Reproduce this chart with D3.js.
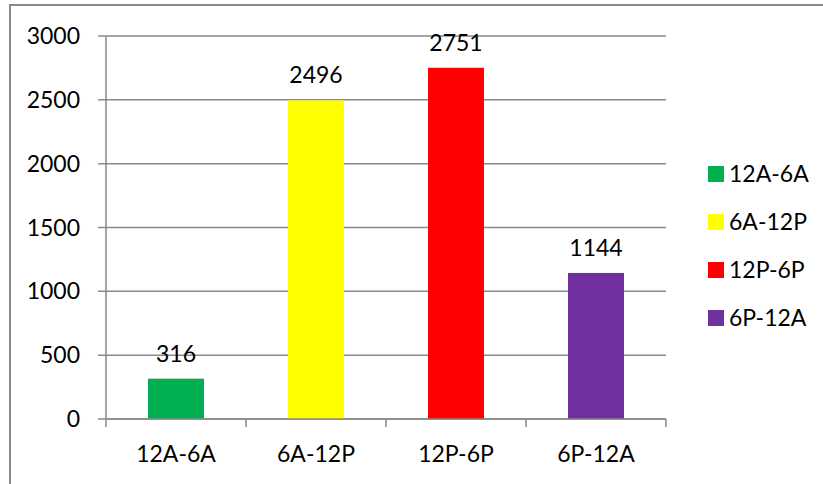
<!DOCTYPE html>
<html>
<head>
<meta charset="utf-8">
<script src="https://cdn.jsdelivr.net/npm/d3@7/dist/d3.min.js"></script>
<style>
  html, body { margin: 0; padding: 0; background: #fff; }
  svg { display: block; }
  text { font-family: Lato, "Open Sans", sans-serif; fill: #000; }
</style>
</head>
<body>
<svg id="chart" width="823" height="484"></svg>
<script>
const categories = ["12A-6A", "6A-12P", "12P-6P", "6P-12A"];
const values = [316, 2496, 2751, 1144];
const colors = ["#00B050", "#FFFF00", "#FF0000", "#7030A0"];
const yTicks = [0, 500, 1000, 1500, 2000, 2500, 3000];

const svg = d3.select("#chart");
const W = 823, H = 484;
const plot = { left: 106, right: 666, top: 36, bottom: 419 };
const fontSize = 23;
const gridColor = "#898989";

// outer frame (extends beyond right/bottom edges)
svg.append("rect")
  .attr("x", 10).attr("y", 5)
  .attr("width", W + 20).attr("height", H + 20)
  .attr("fill", "none").attr("stroke", gridColor).attr("stroke-width", 2);

const y = d3.scaleLinear().domain([0, 3000]).range([plot.bottom, plot.top]);
const x = d3.scaleBand().domain(categories).range([plot.left, plot.right])
  .paddingInner(0.6).paddingOuter(0.3);
const step = x.step();

// gridlines
svg.append("g").selectAll("line").data(yTicks).join("line")
  .attr("x1", plot.left - 8).attr("x2", plot.right)
  .attr("y1", d => y(d)).attr("y2", d => y(d))
  .attr("stroke", gridColor).attr("stroke-width", 1.5);

// y axis line
svg.append("line")
  .attr("x1", plot.left).attr("x2", plot.left)
  .attr("y1", plot.top).attr("y2", plot.bottom)
  .attr("stroke", gridColor).attr("stroke-width", 1.5);

// y labels
svg.append("g").selectAll("text").data(yTicks).join("text")
  .attr("x", 80).attr("y", d => y(d))
  .attr("dy", "0.35em")
  .attr("text-anchor", "end")
  .attr("font-size", fontSize)
  .text(d => d);

// bars
svg.append("g").selectAll("rect").data(values).join("rect")
  .attr("x", (d, i) => x(categories[i]))
  .attr("width", x.bandwidth())
  .attr("y", d => y(d))
  .attr("height", d => y(0) - y(d))
  .attr("fill", (d, i) => colors[i]);

// x axis line & ticks
svg.append("line")
  .attr("x1", plot.left).attr("x2", plot.right)
  .attr("y1", plot.bottom).attr("y2", plot.bottom)
  .attr("stroke", gridColor).attr("stroke-width", 1.5);
const xTickPos = categories.map(c => x(c) - (step - x.bandwidth()) / 2);
xTickPos.push(plot.right);
svg.append("g").selectAll("line").data(xTickPos).join("line")
  .attr("x1", d => d).attr("x2", d => d)
  .attr("y1", plot.bottom).attr("y2", plot.bottom + 8)
  .attr("stroke", gridColor).attr("stroke-width", 1.5);

// x labels
svg.append("g").selectAll("text").data(categories).join("text")
  .attr("x", d => x(d) + x.bandwidth() / 2)
  .attr("y", 462)
  .attr("text-anchor", "middle")
  .attr("font-size", fontSize)
  .text(d => d);

// data labels
svg.append("g").selectAll("text").data(values).join("text")
  .attr("x", (d, i) => x(categories[i]) + x.bandwidth() / 2)
  .attr("y", d => y(d) - 17)
  .attr("text-anchor", "middle")
  .attr("font-size", fontSize)
  .text(d => d);

// legend
const legend = svg.append("g");
categories.forEach((c, i) => {
  const cy = 174 + i * 48;
  legend.append("rect")
    .attr("x", 708).attr("y", cy - 8)
    .attr("width", 16).attr("height", 16)
    .attr("fill", colors[i]);
  legend.append("text")
    .attr("x", 729).attr("y", cy)
    .attr("dy", "0.35em")
    .attr("font-size", fontSize)
    .text(c);
});
</script>
</body>
</html>
